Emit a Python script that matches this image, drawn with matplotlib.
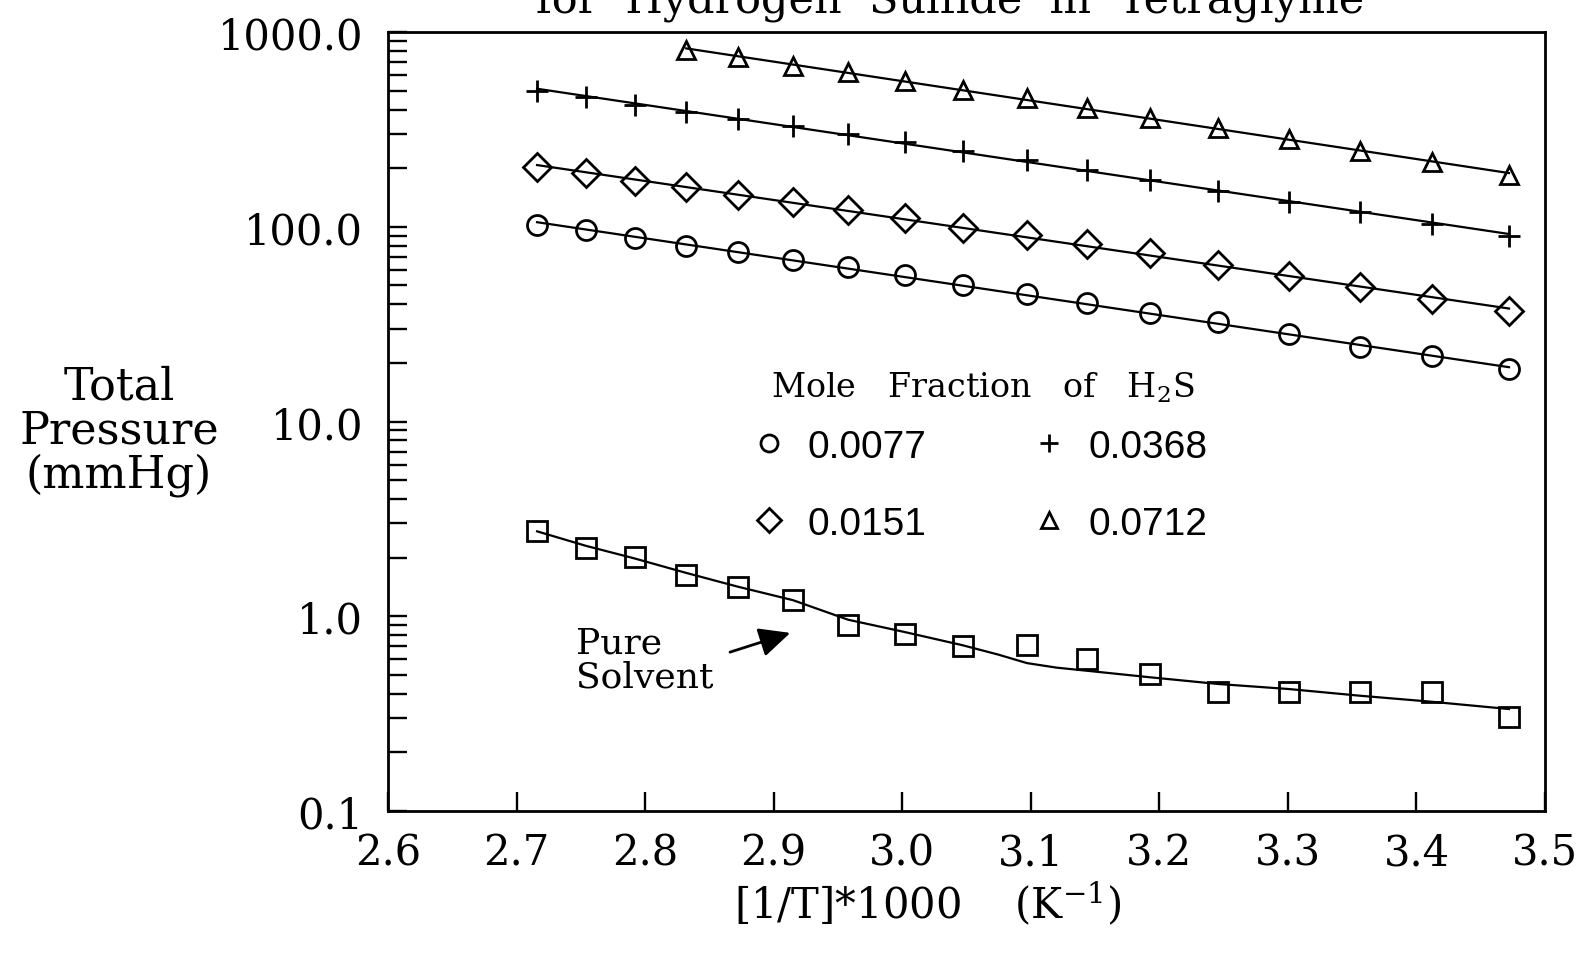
import numpy as np
import matplotlib
matplotlib.use('Agg')
import matplotlib.pyplot as plt
from matplotlib.ticker import FixedLocator, FuncFormatter, LogLocator, NullFormatter

plt.rcParams['font.family'] = 'DejaVu Serif'
plt.rcParams['mathtext.fontset'] = 'dejavuserif'

# [1/T]*1000 (K^-1), 95 C down to 15 C
inv_t = [2.716, 2.754, 2.792, 2.832, 2.872, 2.915, 2.958, 3.002, 3.047,
         3.097, 3.144, 3.193, 3.246, 3.301, 3.356, 3.412, 3.472]

# total pressure (mmHg) for each mole fraction of H2S
p_0077 = [102.4, 96.6, 87.5, 79.9, 73.9, 67.8, 62.4, 56.5, 50.4,
          45.3, 40.4, 36.1, 32.3, 28.1, 24.0, 21.6, 18.6]
p_0151 = [202, 188, 172, 159.5, 146, 133.5, 122.3, 110.5, 98.9,
          90.7, 81.5, 73.1, 63.6, 55.7, 48.9, 42.6, 36.9]
p_0368 = [500, 466, 423, 387, 358, 328, 300, 272, 246,
          221, 196, 174, 153, 134.5, 119.5, 103.3, 90.0]
p_0712 = [811, 741, 671, 621, 562, 505, 457, 406, 362,
          320, 282, 246, 214, 185]          # starts at 80 C
p_pure = [2.73, 2.23, 2.01, 1.62, 1.42, 1.21, 0.905, 0.811, 0.706,
          0.71, 0.603, 0.505, 0.407, 0.407, 0.407, 0.408, 0.303]

# smooth curve drawn through the pure solvent data
pure_fit_x = [2.716, 2.754, 2.792, 2.832, 2.872, 2.915, 2.958, 3.002, 3.047,
              3.075, 3.097, 3.12, 3.144, 3.193, 3.246, 3.301, 3.356, 3.412, 3.472]
pure_fit_y = [2.73, 2.30, 1.98, 1.67, 1.42, 1.21, 0.96, 0.83, 0.71,
              0.635, 0.575, 0.545, 0.525, 0.486, 0.449, 0.423, 0.391, 0.364, 0.334]

fractions = ['0.0077', '0.0151', '0.0368', '0.0712']

fig = plt.figure(figsize=(15.9, 9.54), dpi=100)
ax = fig.add_axes([0.2440, 0.1488, 0.7277, 0.8166])

lw = 1.6
mew = 2.0
series = [
    (inv_t, p_0077, 'o', 14.4),
    (inv_t, p_0151, 'D', 14.0),
    (inv_t, p_0368, '+', 16.0),
    (inv_t[3:], p_0712, '^', 13.0),
]
for (xs, ys, mk, ms), lab in zip(series, fractions):
    xs = np.array(xs)
    k, b = np.polyfit(xs, np.log10(ys), 1)
    ax.plot(xs, 10 ** (k * xs + b), color='black', lw=lw)
    ax.plot(xs, ys, linestyle='none', marker=mk, ms=ms, mfc='none',
            mec='black', mew=mew, label=lab)

ax.plot(pure_fit_x, pure_fit_y, color='black', lw=lw)
ax.plot(inv_t, p_pure, linestyle='none', marker='s', ms=14.4, mfc='none',
        mec='black', mew=mew)

ax.set_yscale('log')
ax.set_xlim(2.6, 3.5)
ax.set_ylim(0.1, 1000)

ax.xaxis.set_major_locator(FixedLocator(np.round(np.arange(2.6, 3.55, 0.1), 1)))
ax.xaxis.set_major_formatter(FuncFormatter(lambda v, p: '%.1f' % v))
ax.yaxis.set_major_locator(FixedLocator([0.1, 1, 10, 100, 1000]))
ax.yaxis.set_major_formatter(FuncFormatter(lambda v, p: '%.1f' % v))
ax.yaxis.set_minor_locator(LogLocator(base=10, subs=np.arange(2, 10)))
ax.yaxis.set_minor_formatter(NullFormatter())

ax.tick_params(axis='both', which='both', direction='in', width=1.7,
               labelsize=30, top=False, right=False)
ax.tick_params(axis='y', which='both', length=14, pad=18)
ax.tick_params(axis='x', which='major', length=14, pad=15)
for s in ax.spines.values():
    s.set_linewidth(2.0)

leg = ax.legend(loc='upper left', bbox_to_anchor=(0.289, 0.612), ncol=2,
                frameon=False, markerscale=0.85, handlelength=0.6,
                handletextpad=0.7, columnspacing=2.85, labelspacing=1.05,
                prop={'family': 'Liberation Sans', 'size': 28},
                title='Mole   Fraction   of   H$_2$S',
                title_fontproperties={'family': 'DejaVu Serif', 'size': 24})
leg._legend_box.sep = 18

ax.annotate('', xy=(2.915, 0.83), xytext=(2.864, 0.648),
            arrowprops=dict(arrowstyle='-|>,head_length=1.9,head_width=0.9',
                            color='black', lw=2.0))
ax.text(2.746, 0.6, 'Pure\nSolvent', fontsize=26, ha='left', va='center',
        linespacing=1.0)

fig.text(0.0748, 0.548, 'Total\nPressure\n(mmHg)', fontsize=32,
         ha='center', va='center', multialignment='center', linespacing=1.02)
fig.text(0.5836, 0.052, '[1/T]*1000    (K$^{-1}$)', fontsize=30,
         ha='center', va='center')
fig.text(0.5975, 1 - 13 / 954, 'for  Hydrogen  Sulfide  in  Tetraglyme',
         fontsize=31, ha='center', va='baseline')

fig.savefig('out.png', dpi=100)
